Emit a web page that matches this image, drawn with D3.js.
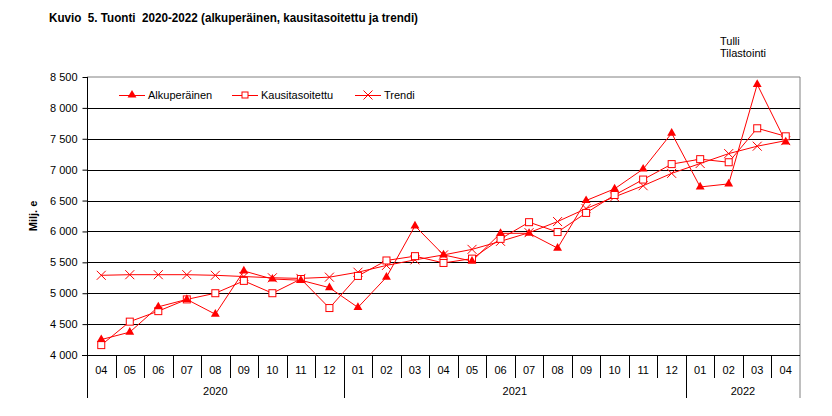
<!DOCTYPE html>
<html><head><meta charset="utf-8">
<script src="https://cdn.jsdelivr.net/npm/d3@7/dist/d3.min.js"></script>
<style>body{margin:0;background:#fff}svg{display:block;font-family:"Liberation Sans",Arial,sans-serif}.pre{white-space:pre}</style>
</head><body>
<script>
const months = ["04","05","06","07","08","09","10","11","12","01","02","03","04","05","06","07","08","09","10","11","12","01","02","03","04"];
const years = [{label:"2020", start:0, end:9},{label:"2021", start:9, end:21},{label:"2022", start:21, end:25}];
const alkuperainen = [4250,4370,4780,4900,4660,5360,5230,5210,5090,4770,5260,6090,5620,5520,5970,5970,5730,6500,6690,7010,7590,6720,6770,8380,7450];
const kausitasoitettu = [4160,4540,4710,4900,5000,5200,5000,5230,4760,5280,5530,5600,5490,5560,5880,6150,5990,6300,6590,6840,7090,7170,7120,7670,7540];
const trendi = [5290,5300,5300,5300,5290,5270,5250,5240,5260,5340,5450,5540,5620,5710,5840,5980,6160,6370,6560,6740,6940,7100,7260,7380,7470];
const yTicks = [4000,4500,5000,5500,6000,6500,7000,7500,8000,8500];
const yTickLabels = ["4 000","4 500","5 000","5 500","6 000","6 500","7 000","7 500","8 000","8 500"];

const W=832,H=416;
const L=87,R=800,T=77,B=355;
const svg=d3.select("body").append("svg").attr("width",W).attr("height",H);
const x=d3.scaleBand().domain(d3.range(months.length)).range([L,R]);
const y=d3.scaleLinear().domain([4000,8500]).range([B,T]);
const cx=i=>x(i)+x.bandwidth()/2;

// title
svg.append("text").attr("class","pre").attr("x",49).attr("y",22).attr("font-size",12).attr("font-weight","bold").attr("fill","#000")
  .attr("textLength",369).attr("lengthAdjust","spacingAndGlyphs")
  .text("Kuvio  5. Tuonti  2020-2022 (alkuperäinen, kausitasoitettu ja trendi)");
svg.append("text").attr("x",720).attr("y",45).attr("font-size",11).text("Tulli");
svg.append("text").attr("x",720).attr("y",57).attr("font-size",11).text("Tilastointi");

// plot border (top, right)
svg.append("path").attr("d",`M${L},${T}H${R}V${398}`).attr("fill","none").attr("stroke","#808080").attr("stroke-width",1);

// gridlines
svg.append("g").selectAll("line").data(yTicks.filter(v=>v>4000 && v<8500)).join("line")
  .attr("x1",L).attr("x2",R).attr("y1",d=>Math.round(y(d))+0.5).attr("y2",d=>Math.round(y(d))+0.5)
  .attr("stroke","#000").attr("stroke-width",1);

// y axis
const yAxis=d3.axisLeft(y).tickValues(yTicks).tickFormat((d,i)=>yTickLabels[i]).tickSize(5).tickPadding(5);
const gy=svg.append("g").attr("transform",`translate(${L+0.5},0)`).call(yAxis);
gy.select(".domain").attr("d",`M0,${T}V398`).attr("stroke","#000");
gy.selectAll(".tick line").attr("stroke","#000");
gy.selectAll(".tick text").attr("font-size",11).attr("font-family","Liberation Sans, Arial, sans-serif").attr("fill","#000");

svg.append("text").attr("transform",`translate(37,${(T+B)/2}) rotate(-90)`).attr("text-anchor","middle")
  .attr("font-size",11).attr("font-weight","bold").text("Milj. e");

// x axis
svg.append("line").attr("x1",82).attr("x2",R).attr("y1",B+0.5).attr("y2",B+0.5).attr("stroke","#000");
const gx=svg.append("g");
gx.selectAll("line.m").data(d3.range(1,months.length)).join("line").attr("class","m")
  .attr("x1",i=>Math.round(x(i))+0.5).attr("x2",i=>Math.round(x(i))+0.5)
  .attr("y1",B).attr("y2",378).attr("stroke","#000");
gx.selectAll("line.yb").data(years.map(d=>d.end).filter(e=>e<months.length)).join("line").attr("class","yb")
  .attr("x1",i=>Math.round(x(i))+0.5).attr("x2",i=>Math.round(x(i))+0.5)
  .attr("y1",B).attr("y2",398).attr("stroke","#000");
gx.selectAll("text.m").data(months).join("text").attr("class","m")
  .attr("x",(d,i)=>cx(i)).attr("y",374).attr("text-anchor","middle").attr("font-size",11).text(d=>d);
gx.selectAll("text.y").data(years).join("text").attr("class","y")
  .attr("x",d=>(x(d.start)+(d.end<months.length?x(d.end):R))/2).attr("y",395).attr("text-anchor","middle").attr("font-size",11).text(d=>d.label);

const red="#ff0000";
const line=d3.line().x((d,i)=>cx(i)).y(d=>y(d));
function drawLine(data){
  svg.append("path").datum(data).attr("d",line).attr("fill","none").attr("stroke",red).attr("stroke-width",1);
}
drawLine(trendi);
drawLine(kausitasoitettu);
drawLine(alkuperainen);

const tri=d3.symbol().type(d3.symbolTriangle).size(34);
function triMarks(g,data){
  g.selectAll("path.t").data(data).join("path").attr("class","t")
   .attr("transform",(d,i)=>`translate(${cx(i)},${y(d)})`).attr("d",tri).attr("fill",red);
}
function sqMarks(g,data){
  g.selectAll("rect").data(data).join("rect")
   .attr("x",(d,i)=>cx(i)-3.5).attr("y",d=>y(d)-3.5).attr("width",7).attr("height",7)
   .attr("fill","#fff").attr("stroke",red).attr("stroke-width",1);
}
function xMarks(g,data){
  g.selectAll("path.x").data(data).join("path").attr("class","x")
   .attr("d",(d,i)=>{const a=cx(i),b=y(d),s=4.5;return `M${a-s},${b-s}L${a+s},${b+s}M${a-s},${b+s}L${a+s},${b-s}`;})
   .attr("stroke",red).attr("stroke-width",1);
}
xMarks(svg.append("g"),trendi);
sqMarks(svg.append("g"),kausitasoitettu);
triMarks(svg.append("g"),alkuperainen);

// legend
const lg=svg.append("g");
const ly=95;
const items=[{name:"Alkuperäinen",x1:119,type:"t"},{name:"Kausitasoitettu",x1:232,type:"s"},{name:"Trendi",x1:355,type:"x"}];
items.forEach(it=>{
  lg.append("line").attr("x1",it.x1).attr("x2",it.x1+26).attr("y1",ly+0.5).attr("y2",ly+0.5).attr("stroke",red);
  const m=it.x1+13;
  if(it.type==="t") lg.append("path").attr("transform",`translate(${m},${ly})`).attr("d",tri).attr("fill",red);
  if(it.type==="s") lg.append("rect").attr("x",m-3).attr("y",ly-3).attr("width",6).attr("height",6).attr("fill","#fff").attr("stroke",red);
  if(it.type==="x") lg.append("path").attr("d",`M${m-4.5},${ly-4.5}L${m+4.5},${ly+4.5}M${m-4.5},${ly+4.5}L${m+4.5},${ly-4.5}`).attr("stroke",red);
  lg.append("text").attr("x",it.x1+29).attr("y",ly+4).attr("font-size",11).text(it.name);
});
</script>
</body></html>
